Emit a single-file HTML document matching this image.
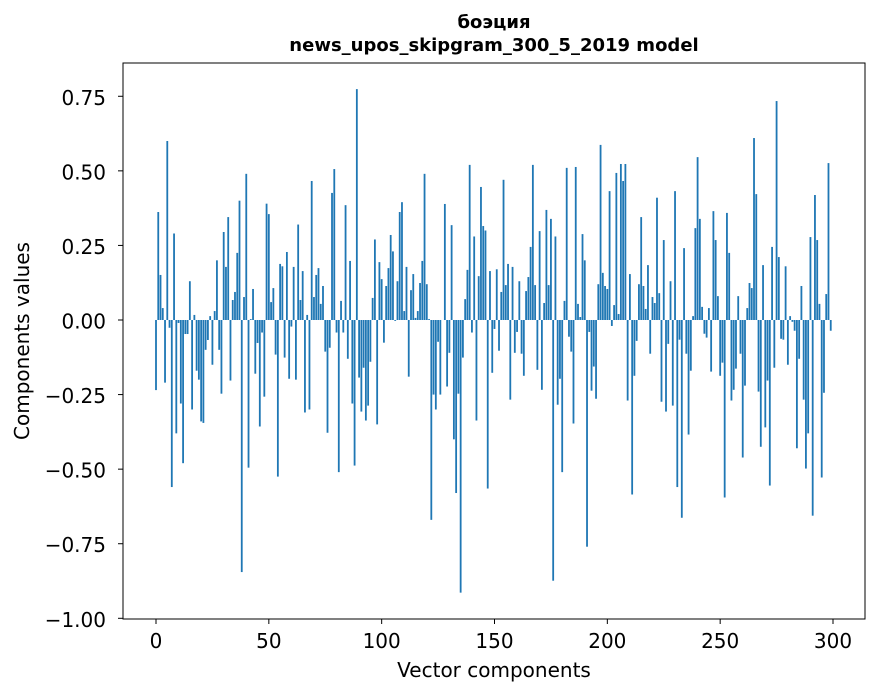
<!DOCTYPE html>
<html><head><meta charset="utf-8"><style>
html,body{margin:0;padding:0;background:#fff;}
svg{display:block;font-family:"DejaVu Sans","Liberation Sans",sans-serif;}
</style></head><body>
<svg id="chart" width="880" height="696">
<rect width="880" height="696" fill="#fff"/>
<text x="494" y="28" text-anchor="middle" font-size="18" font-weight="bold">боэция</text>
<text x="494" y="51" text-anchor="middle" font-size="18" font-weight="bold">news_upos_skipgram_300_5_2019 model</text>
<g id="bars"></g>
<g id="xaxis"></g>
<g id="yaxis"></g>
<rect x="123" y="63" width="742" height="556" fill="none" stroke="#000" stroke-width="1"/>
<text x="494" y="677" text-anchor="middle" font-size="20">Vector components</text>
<text transform="translate(29,341) rotate(-90)" text-anchor="middle" font-size="20">Components values</text>
</svg>
<script>
const values = [-0.235,0.362,0.151,0.04,-0.21,0.60,-0.026,-0.56,0.29,-0.38,
-0.01,-0.28,-0.48,-0.047,-0.047,0.13,-0.30,0.017,-0.17,-0.20,
-0.34,-0.345,-0.10,-0.067,0.013,-0.15,0.03,0.20,-0.10,-0.247,
0.295,0.178,0.345,-0.203,0.067,0.094,0.225,0.40,-0.845,0.077,
0.49,-0.495,0.003,0.104,-0.18,-0.077,-0.357,-0.042,-0.257,0.39,
0.355,0.06,0.107,-0.116,-0.525,0.188,0.18,-0.126,0.228,-0.197,
-0.022,0.178,-0.20,0.32,0.067,0.164,-0.31,0.017,-0.30,0.466,
0.077,0.151,0.174,0.054,0.114,-0.106,-0.378,-0.093,0.426,0.506,
-0.042,-0.51,0.064,-0.042,0.385,-0.13,0.198,-0.28,-0.488,0.774,
-0.193,-0.307,-0.16,-0.337,-0.287,-0.14,0.074,0.27,-0.35,0.194,
0.137,-0.076,0.114,0.174,0.285,0.23,-0.003,0.13,0.362,0.395,
0.03,0.178,-0.19,0.10,0.154,0.007,0.03,0.124,0.198,0.49,
0.12,0.003,-0.67,-0.25,-0.30,-0.073,-0.25,0.0,0.389,-0.223,
-0.11,0.318,-0.40,-0.58,-0.247,-0.914,-0.126,0.07,0.168,0.52,
-0.042,0.28,-0.337,0.147,0.446,0.315,0.30,-0.565,0.164,-0.177,
-0.03,0.17,-0.103,0.094,0.47,0.117,0.188,-0.267,0.178,-0.11,
-0.04,0.13,-0.113,-0.187,0.097,0.144,0.245,0.52,0.117,-0.167,
0.298,-0.234,0.057,0.369,0.117,0.339,-0.874,0.28,-0.284,-0.197,
-0.51,0.064,0.51,-0.056,-0.106,-0.347,0.513,0.054,0.01,0.288,
0.20,-0.76,-0.04,-0.237,-0.156,-0.264,0.12,0.587,0.158,0.114,
0.104,0.432,-0.02,0.05,0.493,0.02,0.523,0.466,0.523,-0.27,
0.154,-0.585,-0.187,-0.07,0.12,0.345,0.114,0.037,0.184,-0.113,
0.077,0.057,0.41,0.09,-0.274,0.268,-0.307,-0.08,0.13,-0.287,
0.432,-0.56,-0.066,-0.663,0.241,-0.113,-0.384,-0.17,0.013,0.308,
0.546,0.339,0.044,-0.046,-0.059,0.04,-0.173,0.365,0.268,0.08,
-0.187,-0.143,-0.595,0.359,0.225,-0.27,-0.234,-0.163,0.08,-0.113,
-0.461,-0.22,0.04,0.124,0.107,0.61,0.422,-0.24,-0.425,0.184,
-0.36,-0.203,-0.555,0.245,-0.16,0.734,0.211,-0.063,-0.066,0.18,
-0.15,0.013,-0.006,-0.036,-0.43,-0.13,0.114,-0.267,-0.498,-0.38,
0.278,-0.656,0.419,0.268,0.054,-0.528,-0.244,0.087,0.526,-0.036];
const xTicks = [0,50,100,150,200,250,300];
const yTicks = [-1.00,-0.75,-0.50,-0.25,0.00,0.25,0.50,0.75];
const yTickLabels = ["\u22121.00","\u22120.75","\u22120.50","\u22120.25","0.00","0.25","0.50","0.75"];

const NS = "http://www.w3.org/2000/svg";
const xScale = v => 156 + (v) * 677 / 300;
const yScale = v => 320 - v * 298.3;
const barsG = document.getElementById('bars');
values.forEach((v, i) => {
  const r = document.createElementNS(NS, 'rect');
  const w = 0.8 * 677 / 300;
  r.setAttribute('x', xScale(i) - w / 2);
  r.setAttribute('width', w);
  const y0 = yScale(0), y1 = yScale(v);
  r.setAttribute('y', Math.min(y0, y1));
  r.setAttribute('height', Math.abs(y1 - y0));
  r.setAttribute('fill', '#1f77b4');
  
  
  barsG.appendChild(r);
});
const xG = document.getElementById('xaxis');
xTicks.forEach(t => {
  const x = xScale(t);
  const l = document.createElementNS(NS, 'line');
  l.setAttribute('x1', x); l.setAttribute('x2', x);
  l.setAttribute('y1', 619); l.setAttribute('y2', 624);
  l.setAttribute('stroke', '#000');
  
  
  xG.appendChild(l);
  const tx = document.createElementNS(NS, 'text');
  tx.setAttribute('x', x); tx.setAttribute('y', 648);
  tx.setAttribute('text-anchor', 'middle');
  tx.setAttribute('font-size', '20');
  tx.textContent = t;
  
  
  xG.appendChild(tx);
});
const yG = document.getElementById('yaxis');
yTicks.forEach((t, i) => {
  const y = yScale(t);
  const l = document.createElementNS(NS, 'line');
  l.setAttribute('x1', 118); l.setAttribute('x2', 123);
  l.setAttribute('y1', y); l.setAttribute('y2', y);
  l.setAttribute('stroke', '#000');
  
  
  yG.appendChild(l);
  const tx = document.createElementNS(NS, 'text');
  tx.setAttribute('x', 106); tx.setAttribute('y', y + 8.5);
  tx.setAttribute('text-anchor', 'end');
  tx.setAttribute('font-size', '20');
  tx.textContent = yTickLabels[i];
  
  
  yG.appendChild(tx);
});
</script>
</body></html>
